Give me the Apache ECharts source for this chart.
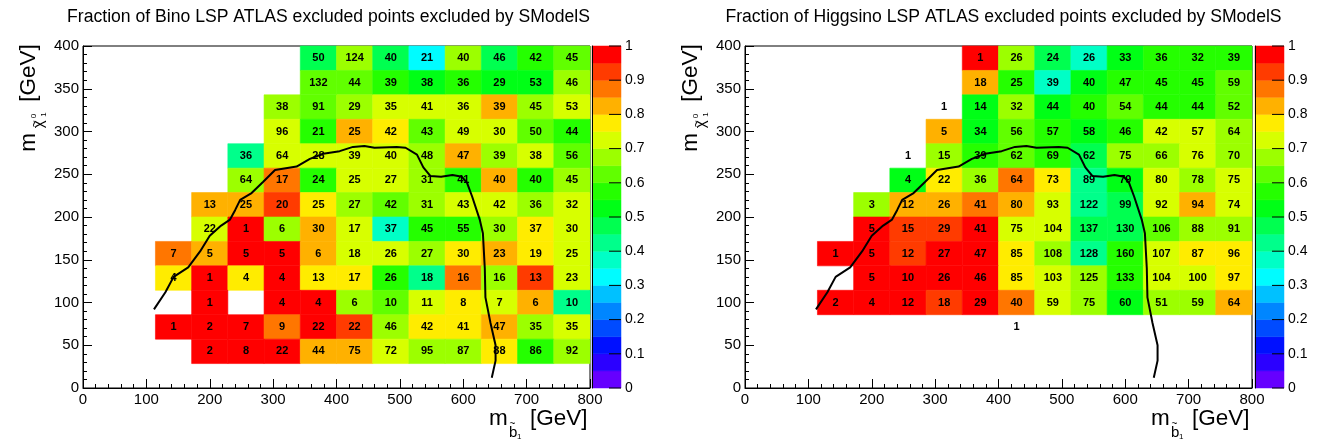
<!DOCTYPE html>
<html><head><meta charset="utf-8">
<script src="https://cdn.jsdelivr.net/npm/echarts@6/dist/echarts.min.js"></script>
<style>html,body{margin:0;padding:0;background:#fff}#c{width:1318px;height:442px}</style>
</head><body><div id="c"></div>
<script>
const _ = null;
// binning: 14 x 14 bins over 0-800 GeV (sbottom) x 0-400 GeV (neutralino)
const xMax = 800, yMax = 400, nBinsX = 14, nBinsY = 14;

// rows from top (m_chi bin 13) to bottom (bin 0), columns bin 0..13
const binoCounts = [
 [_,_,_,_,_,_,50,124,40,21,40,46,42,45],
 [_,_,_,_,_,_,132,44,39,38,36,29,53,46],
 [_,_,_,_,_,38,91,29,35,41,36,39,45,53],
 [_,_,_,_,_,96,21,25,42,43,49,30,50,44],
 [_,_,_,_,36,64,28,39,40,48,47,39,38,56],
 [_,_,_,_,64,17,24,25,27,31,41,40,40,45],
 [_,_,_,13,25,20,25,27,42,31,43,42,36,32],
 [_,_,_,22,1,6,30,17,37,45,55,30,37,30],
 [_,_,7,5,5,5,6,18,26,27,30,23,19,25],
 [_,_,4,1,4,4,13,17,26,18,16,16,13,23],
 [_,_,_,1,_,4,4,6,10,11,8,7,6,10],
 [_,_,1,2,7,9,22,22,46,42,41,47,35,35],
 [_,_,_,2,8,22,44,75,72,95,87,88,86,92],
 [_,_,_,_,_,_,_,_,_,_,_,_,_,_]
];
const binoFractions = [
 [_,_,_,_,_,_,.48,.68,.48,.33,.68,.48,.58,.63],
 [_,_,_,_,_,_,.63,.63,.58,.53,.58,.53,.53,.68],
 [_,_,_,_,_,.68,.63,.68,.73,.73,.73,.83,.68,.73],
 [_,_,_,_,_,.73,.58,.83,.78,.63,.73,.73,.63,.58],
 [_,_,_,_,.43,.73,.73,.73,.73,.68,.83,.68,.73,.63],
 [_,_,_,_,.68,.88,.58,.73,.73,.68,.58,.83,.58,.68],
 [_,_,_,.83,.83,.93,.78,.68,.63,.68,.73,.73,.68,.73],
 [_,_,_,.73,1,.68,.83,.73,.38,.58,.58,.68,.78,.73],
 [_,_,.88,.83,1,1,.83,.73,.73,.68,.78,.83,.78,.73],
 [_,_,.78,1,.78,1,.78,.78,.58,.43,.88,.68,.93,.73],
 [_,_,_,1,_,1,1,.68,.63,.73,.78,.73,.83,.43],
 [_,_,1,1,1,.88,1,.93,.68,.78,.78,.83,.68,.73],
 [_,_,_,1,1,1,.83,.83,.73,.68,.68,.78,.58,.68],
 [_,_,_,_,_,_,_,_,_,_,_,_,_,_]
];
const higgsinoCounts = [
 [_,_,_,_,_,_,1,26,24,26,33,36,32,39],
 [_,_,_,_,_,_,18,25,39,40,47,45,45,59],
 [_,_,_,_,_,1,14,32,44,40,54,44,44,52],
 [_,_,_,_,_,5,34,56,57,58,46,42,57,64],
 [_,_,_,_,1,15,39,62,69,62,75,66,76,70],
 [_,_,_,_,4,22,36,64,73,89,79,80,78,75],
 [_,_,_,3,12,26,41,80,93,122,99,92,94,74],
 [_,_,_,5,15,29,41,75,104,137,130,106,88,91],
 [_,_,1,5,12,27,47,85,108,128,160,107,87,96],
 [_,_,_,5,10,26,46,85,103,125,133,104,100,97],
 [_,_,2,4,12,18,29,40,59,75,60,51,59,64],
 [_,_,_,_,_,_,_,1,_,_,_,_,_,_],
 [_,_,_,_,_,_,_,_,_,_,_,_,_,_],
 [_,_,_,_,_,_,_,_,_,_,_,_,_,_]
];
const higgsinoFractions = [
 [_,_,_,_,_,_,1,.68,.48,.38,.53,.58,.58,.58],
 [_,_,_,_,_,_,.83,.58,.38,.53,.58,.58,.58,.63],
 [_,_,_,_,_,0,.53,.68,.53,.58,.63,.58,.58,.63],
 [_,_,_,_,_,.83,.53,.63,.58,.53,.58,.73,.73,.68],
 [_,_,_,_,0,.68,.58,.63,.58,.48,.68,.68,.73,.68],
 [_,_,_,_,.53,.78,.68,.88,.78,.43,.53,.73,.68,.73],
 [_,_,_,.68,.83,.83,.88,.83,.73,.43,.48,.73,.83,.73],
 [_,_,_,1,.93,.93,1,.73,.73,.48,.48,.63,.68,.68],
 [_,_,1,1,.93,1,1,.78,.68,.43,.58,.73,.78,.78],
 [_,_,_,1,1,1,1,.78,.73,.68,.58,.73,.73,.78],
 [_,_,1,1,1,.93,1,.88,.73,.68,.53,.68,.68,.83],
 [_,_,_,_,_,_,_,0,_,_,_,_,_,_],
 [_,_,_,_,_,_,_,_,_,_,_,_,_,_],
 [_,_,_,_,_,_,_,_,_,_,_,_,_,_]
];
// ATLAS exclusion contour (GeV)
const contourX = [112,130,143,166,185,200,218,232,240,248,266,284,303,337,358,379,405,426,444,460,495,509,527,537,548,565,583,598,606,614,626,631,634,635,643,651,651,645];
const contourY = [92,112,130,141,160,178,190,197,208,220,228,241,255,259,268,274,277,282,283,281,282,281,273,258,248,247,249,247,240,224,197,181,140,106,76,50,32,12];

const palette = ['#6600ff','#2b00ff','#0010ff','#004bff','#0086ff','#00c1ff','#00fcff','#00ffc6','#00ff8b','#00ff50',
 '#00ff16','#25ff00','#61ff00','#9cff00','#d7ff00','#ffec00','#ffb100','#ff7600','#ff3b00','#ff0000'];
function colorOf(f){ return palette[Math.max(0,Math.min(19,Math.floor(f/0.05+1e-9)))]; }

function cellData(counts, fracs){
  const out=[];
  for(let r=0;r<nBinsY;r++){ const j=nBinsY-1-r;
    for(let i=0;i<nBinsX;i++){ const n=counts[r][i], f=fracs[r][i];
      if(n==null && f==null) continue;
      out.push([i,j,f==null?0:f,n==null?0:n]); } }
  return out;
}
const FONT='"Liberation Sans", Arial, sans-serif';
function renderCell(params, api){
  const i=api.value(0), j=api.value(1), f=api.value(2), n=api.value(3);
  const bw=xMax/nBinsX, bh=yMax/nBinsY;
  const a=api.coord([i*bw,(j+1)*bh]), b=api.coord([(i+1)*bw,j*bh]);
  const ch=[];
  if(f>0){ const c=colorOf(f); ch.push({type:'rect',shape:{x:a[0],y:a[1],width:b[0]-a[0],height:b[1]-a[1]},style:{fill:c,stroke:c,lineWidth:0.6}}); }
  if(n>0){ ch.push({type:'text',x:(a[0]+b[0])/2,y:(a[1]+b[1])/2,style:{text:String(n),align:'center',verticalAlign:'middle',fill:'#000',font:'bold 11px '+FONT}}); }
  return {type:'group',children:ch};
}
function renderBar(params, api){
  const k=api.value(0);
  const a=api.coord([0,(k+1)*0.05]), b=api.coord([1,k*0.05]);
  const c=palette[k];
  const ch=[{type:'rect',shape:{x:a[0],y:a[1],width:b[0]-a[0],height:b[1]-a[1]},style:{fill:c,stroke:c,lineWidth:0.5}}];
  const tick=(y)=>({type:'line',shape:{x1:b[0]-12,y1:y,x2:b[0],y2:y},style:{stroke:'#000',lineWidth:1}});
  if(k%2===0) ch.push(tick(b[1]));
  if(k===palette.length-1) ch.push(tick(a[1]));
  return {type:'group',children:ch};
}
const barData = palette.map((c,k)=>[k]);
const contour = contourX.map((x,k)=>[x,contourY[k]]);

const mainX = (g)=>({gridIndex:g,type:'value',min:0,max:xMax,interval:100,
  axisLine:{show:true,onZero:false,lineStyle:{color:'#000',width:1}},
  axisTick:{show:true,inside:true,length:9,lineStyle:{color:'#000'}},
  minorTick:{show:true,splitNumber:5,length:4,lineStyle:{color:'#000'}},
  axisLabel:{color:'#000',fontSize:15,fontFamily:FONT,margin:4},
  splitLine:{show:false},minorSplitLine:{show:false}});
const mainY = (g)=>({gridIndex:g,type:'value',min:0,max:yMax,interval:50,
  axisLine:{show:true,onZero:false,lineStyle:{color:'#000',width:1}},
  axisTick:{show:true,inside:true,length:9,lineStyle:{color:'#000'}},
  minorTick:{show:true,splitNumber:5,length:4,lineStyle:{color:'#000'}},
  axisLabel:{color:'#000',fontSize:15,fontFamily:FONT,margin:4},
  splitLine:{show:false},minorSplitLine:{show:false}});
const cbY = (g)=>({gridIndex:g,type:'value',min:0,max:1,interval:0.1,position:'right',z:10,
  axisLine:{show:true,lineStyle:{color:'#000',width:1}},
  axisTick:{show:false},
  axisLabel:{color:'#000',fontSize:14,fontFamily:FONT,margin:4},
  splitLine:{show:false}});

function T(text,x,yb,size){
  return {type:'text',x:x,y:yb-0.35*size,style:{text:text,font:size+'px '+FONT,fill:'#000',align:'left',verticalAlign:'middle'}};
}
function titles(dx, cx, title){
  return [
    {type:'text',x:cx,y:8,style:{text:title,font:'17.6px '+FONT,fill:'#000',align:'center',verticalAlign:'top'}},
    {type:'group',x:36.7+dx,y:151.7,rotation:Math.PI/2,children:[
      T('m',0,0,22.5), T('~',24.5,2.5,12), T('\u03c7',23.5,7.8,15), T('0',33.5,0,8), T('1',35,10,8), T('[GeV]',50,0,22.5)
    ]},
    T('m',489+dx,427,22.5), T('~',509.5+dx,428,10), T('b',509+dx,438,15), T('1',517+dx,440,8), T('[GeV]',530+dx,427,22.5)
  ];
}

const chart = echarts.init(document.getElementById('c'),null,{renderer:'canvas'});
chart.setOption({
  animation:false,
  backgroundColor:'#fff',
  grid:[
    {left:83,top:46,width:507,height:342,show:true,borderColor:'#000',borderWidth:1,backgroundColor:'transparent'},
    {left:745,top:46,width:507,height:342,show:true,borderColor:'#000',borderWidth:1,backgroundColor:'transparent'},
    {left:592,top:46,width:29,height:342},
    {left:1255,top:46,width:29,height:342}
  ],
  xAxis:[mainX(0),mainX(1),{gridIndex:2,type:'value',min:0,max:1,show:false},{gridIndex:3,type:'value',min:0,max:1,show:false}],
  yAxis:[mainY(0),mainY(1),cbY(2),cbY(3)],
  graphic:[].concat(titles(0,328.5,'Fraction of Bino LSP ATLAS excluded points excluded by SModelS'),
                    titles(662,1003.5,'Fraction of Higgsino LSP ATLAS excluded points excluded by SModelS')),
  series:[
    {type:'custom',xAxisIndex:0,yAxisIndex:0,data:cellData(binoCounts,binoFractions),renderItem:renderCell,silent:true,z:2},
    {type:'custom',xAxisIndex:1,yAxisIndex:1,data:cellData(higgsinoCounts,higgsinoFractions),renderItem:renderCell,silent:true,z:2},
    {type:'line',xAxisIndex:0,yAxisIndex:0,data:contour,symbol:'none',lineStyle:{color:'#000',width:2},silent:true,z:5},
    {type:'line',xAxisIndex:1,yAxisIndex:1,data:contour,symbol:'none',lineStyle:{color:'#000',width:2},silent:true,z:5},
    {type:'custom',xAxisIndex:2,yAxisIndex:2,data:barData,renderItem:renderBar,silent:true,z:1},
    {type:'custom',xAxisIndex:3,yAxisIndex:3,data:barData,renderItem:renderBar,silent:true,z:1}
  ]
});
</script></body></html>
